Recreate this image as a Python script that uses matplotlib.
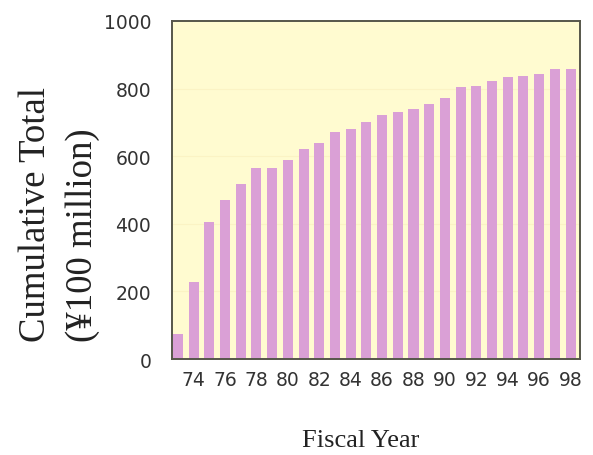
import matplotlib
matplotlib.use("Agg")
import matplotlib.pyplot as plt

# cumulative total per fiscal year (unit: 100 million yen)
years = list(range(73, 99))
totals = [74, 228, 405, 471, 519, 564, 564, 590, 621, 638, 671, 680, 701,
          723, 732, 740, 754, 771, 803, 808, 823, 833, 838, 842, 858, 858]
xtick_years = list(range(74, 99, 2))
ytick_vals = [0, 200, 400, 600, 800, 1000]

fig = plt.figure(figsize=(5.93, 4.56), dpi=100)
ax = fig.add_axes([0.290, 0.2105, 0.688, 0.7415])

ax.set_facecolor("#fffbd0")
for v in ytick_vals[1:-1]:
    ax.axhline(v, color="#fbf3c4", lw=0.8, zorder=0)

ax.bar(years, totals, width=0.64, color="#daa0d6", zorder=2)

ax.set_xlim(72.62, 98.6)
ax.set_ylim(0, 1000)
ax.set_xticks(xtick_years)
ax.set_xticklabels([str(y) for y in xtick_years])
ax.set_yticks(ytick_vals)

ax.tick_params(axis="both", length=0, labelsize=13.5, colors="#333333")
ax.tick_params(axis="x", pad=8)
ax.tick_params(axis="y", pad=15)

for s in ax.spines.values():
    s.set_color("#56564a")
    s.set_linewidth(1.4)

fig.text(0.100, 0.25, "Cumulative Total\n(\u00a5100 million)", rotation=90,
         ha="center", va="bottom", multialignment="left",
         fontfamily="Liberation Serif", fontsize=26.5, linespacing=1.45,
         color="#222222")
fig.text(0.609, 0.033, "Fiscal Year", ha="center", va="center",
         fontfamily="Liberation Serif", fontsize=19, color="#222222")

fig.savefig("out.png", dpi=100)
